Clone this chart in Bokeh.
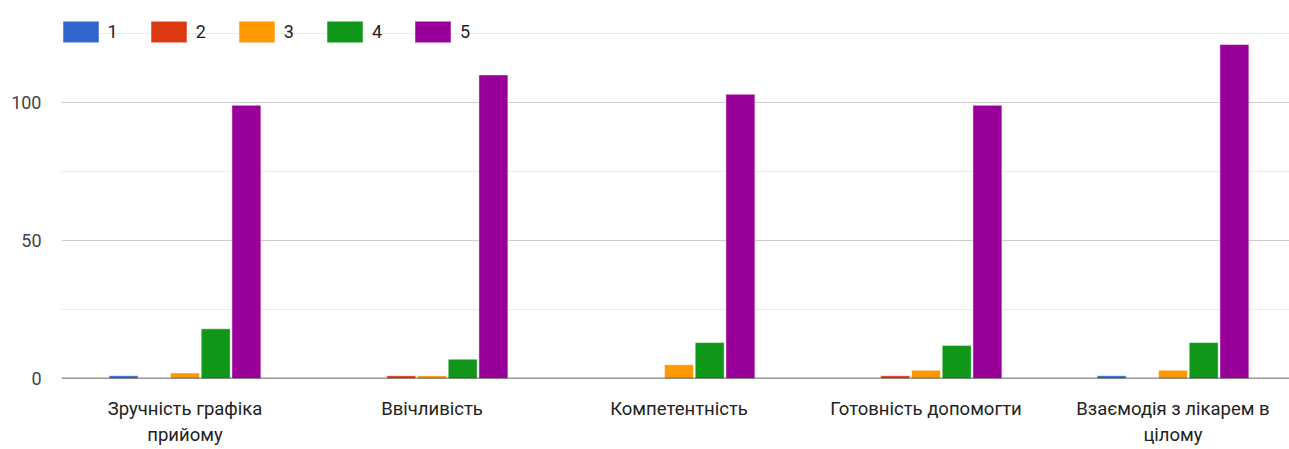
from bokeh.plotting import figure
from bokeh.models import Range1d, FixedTicker, Span, Legend, LegendItem, ColumnDataSource
from bokeh.transform import dodge
from bokeh.embed import file_html
from bokeh.resources import INLINE

categories = ["Зручність графіка\nприйому", "Ввічливість", "Компетентність",
              "Готовність допомогти", "Взаємодія з лікарем в\nцілому"]
series_names = ["1", "2", "3", "4", "5"]
s1 = [1, 0, 0, 0, 1]
s2 = [0, 1, 0, 1, 0]
s3 = [2, 1, 5, 3, 3]
s4 = [18, 7, 13, 12, 13]
s5 = [99, 110, 103, 99, 121]
series_values = [s1, s2, s3, s4, s5]
colors = ["#3366cc", "#dc3912", "#ff9900", "#109618", "#990099"]
y_ticks = [0, 50, 100]
y_minor = [25, 75, 125]

FONT = "Roboto"
PX_PER_CAT = 247.0
SLOT = 30.7 / PX_PER_CAT
BAR_W = 29.0 / PX_PER_CAT

W, H = 1289, 449
LEFT = 61
BOTTOM = 71
frame_w = W - LEFT
frame_h = H - BOTTOM
px_per_unit = 2.76

p = figure(width=W, height=H, output_backend="svg", toolbar_location=None,
           x_range=Range1d(-0.5, -0.5 + frame_w / PX_PER_CAT),
           y_range=Range1d(0, frame_h / px_per_unit),
           min_border_left=LEFT, min_border_right=0, min_border_top=0,
           min_border_bottom=BOTTOM)
p.outline_line_color = None
p.background_fill_color = "white"
p.border_fill_color = "white"

xs = list(range(len(categories)))
items = []
for j, (name, vals, col) in enumerate(zip(series_names, series_values, colors)):
    src = ColumnDataSource(dict(x=xs, top=vals))
    r = p.vbar(x=dodge("x", (j - 2) * SLOT, range=p.x_range), top="top", bottom=0,
               width=BAR_W, source=src, fill_color=col, line_color="white",
               line_alpha=0.5, line_width=1)
    items.append(LegendItem(label=name, renderers=[r]))

baseline = Span(location=0, dimension="width", line_color="#333333", line_width=1.6)
p.add_layout(baseline)

# y axis
p.yaxis.ticker = FixedTicker(ticks=y_ticks, minor_ticks=y_minor)
p.yaxis.axis_line_color = None
p.yaxis.major_tick_line_color = None
p.yaxis.minor_tick_line_color = None
p.yaxis.major_label_standoff = 14
p.yaxis.major_label_text_font = FONT
p.yaxis.major_label_text_font_size = "18px"
p.yaxis.major_label_text_color = "#444444"
p.ygrid.ticker = FixedTicker(ticks=y_ticks, minor_ticks=y_minor)
p.ygrid.grid_line_color = "#cccccc"
p.ygrid.grid_line_width = 1.2
p.ygrid.minor_grid_line_color = "#ebebeb"
p.ygrid.minor_grid_line_width = 1.2
p.xgrid.grid_line_color = None

# x axis
p.xaxis.ticker = FixedTicker(ticks=xs)
p.xaxis.major_label_overrides = {i: c for i, c in zip(xs, categories)}
p.xaxis.axis_line_color = None
p.xaxis.major_tick_line_color = None
p.xaxis.minor_tick_line_color = None
p.xaxis.major_label_standoff = 13
p.xaxis.major_label_text_font = FONT
p.xaxis.major_label_text_font_size = "18.5px"
p.xaxis.major_label_text_color = "#222222"
p.xaxis.major_label_text_line_height = 1.19

legend = Legend(items=items, orientation="horizontal", location=(-3.5, frame_h - 45.3),
                glyph_width=45, glyph_height=27, label_standoff=5, label_width=10,
                spacing=28, padding=0, margin=0, border_line_color=None,
                background_fill_alpha=0, label_text_font=FONT,
                label_text_font_size="18px", label_text_color="#222222",
                label_height=27)
p.add_layout(legend)

open("out.html", "w").write(file_html(p, INLINE))
